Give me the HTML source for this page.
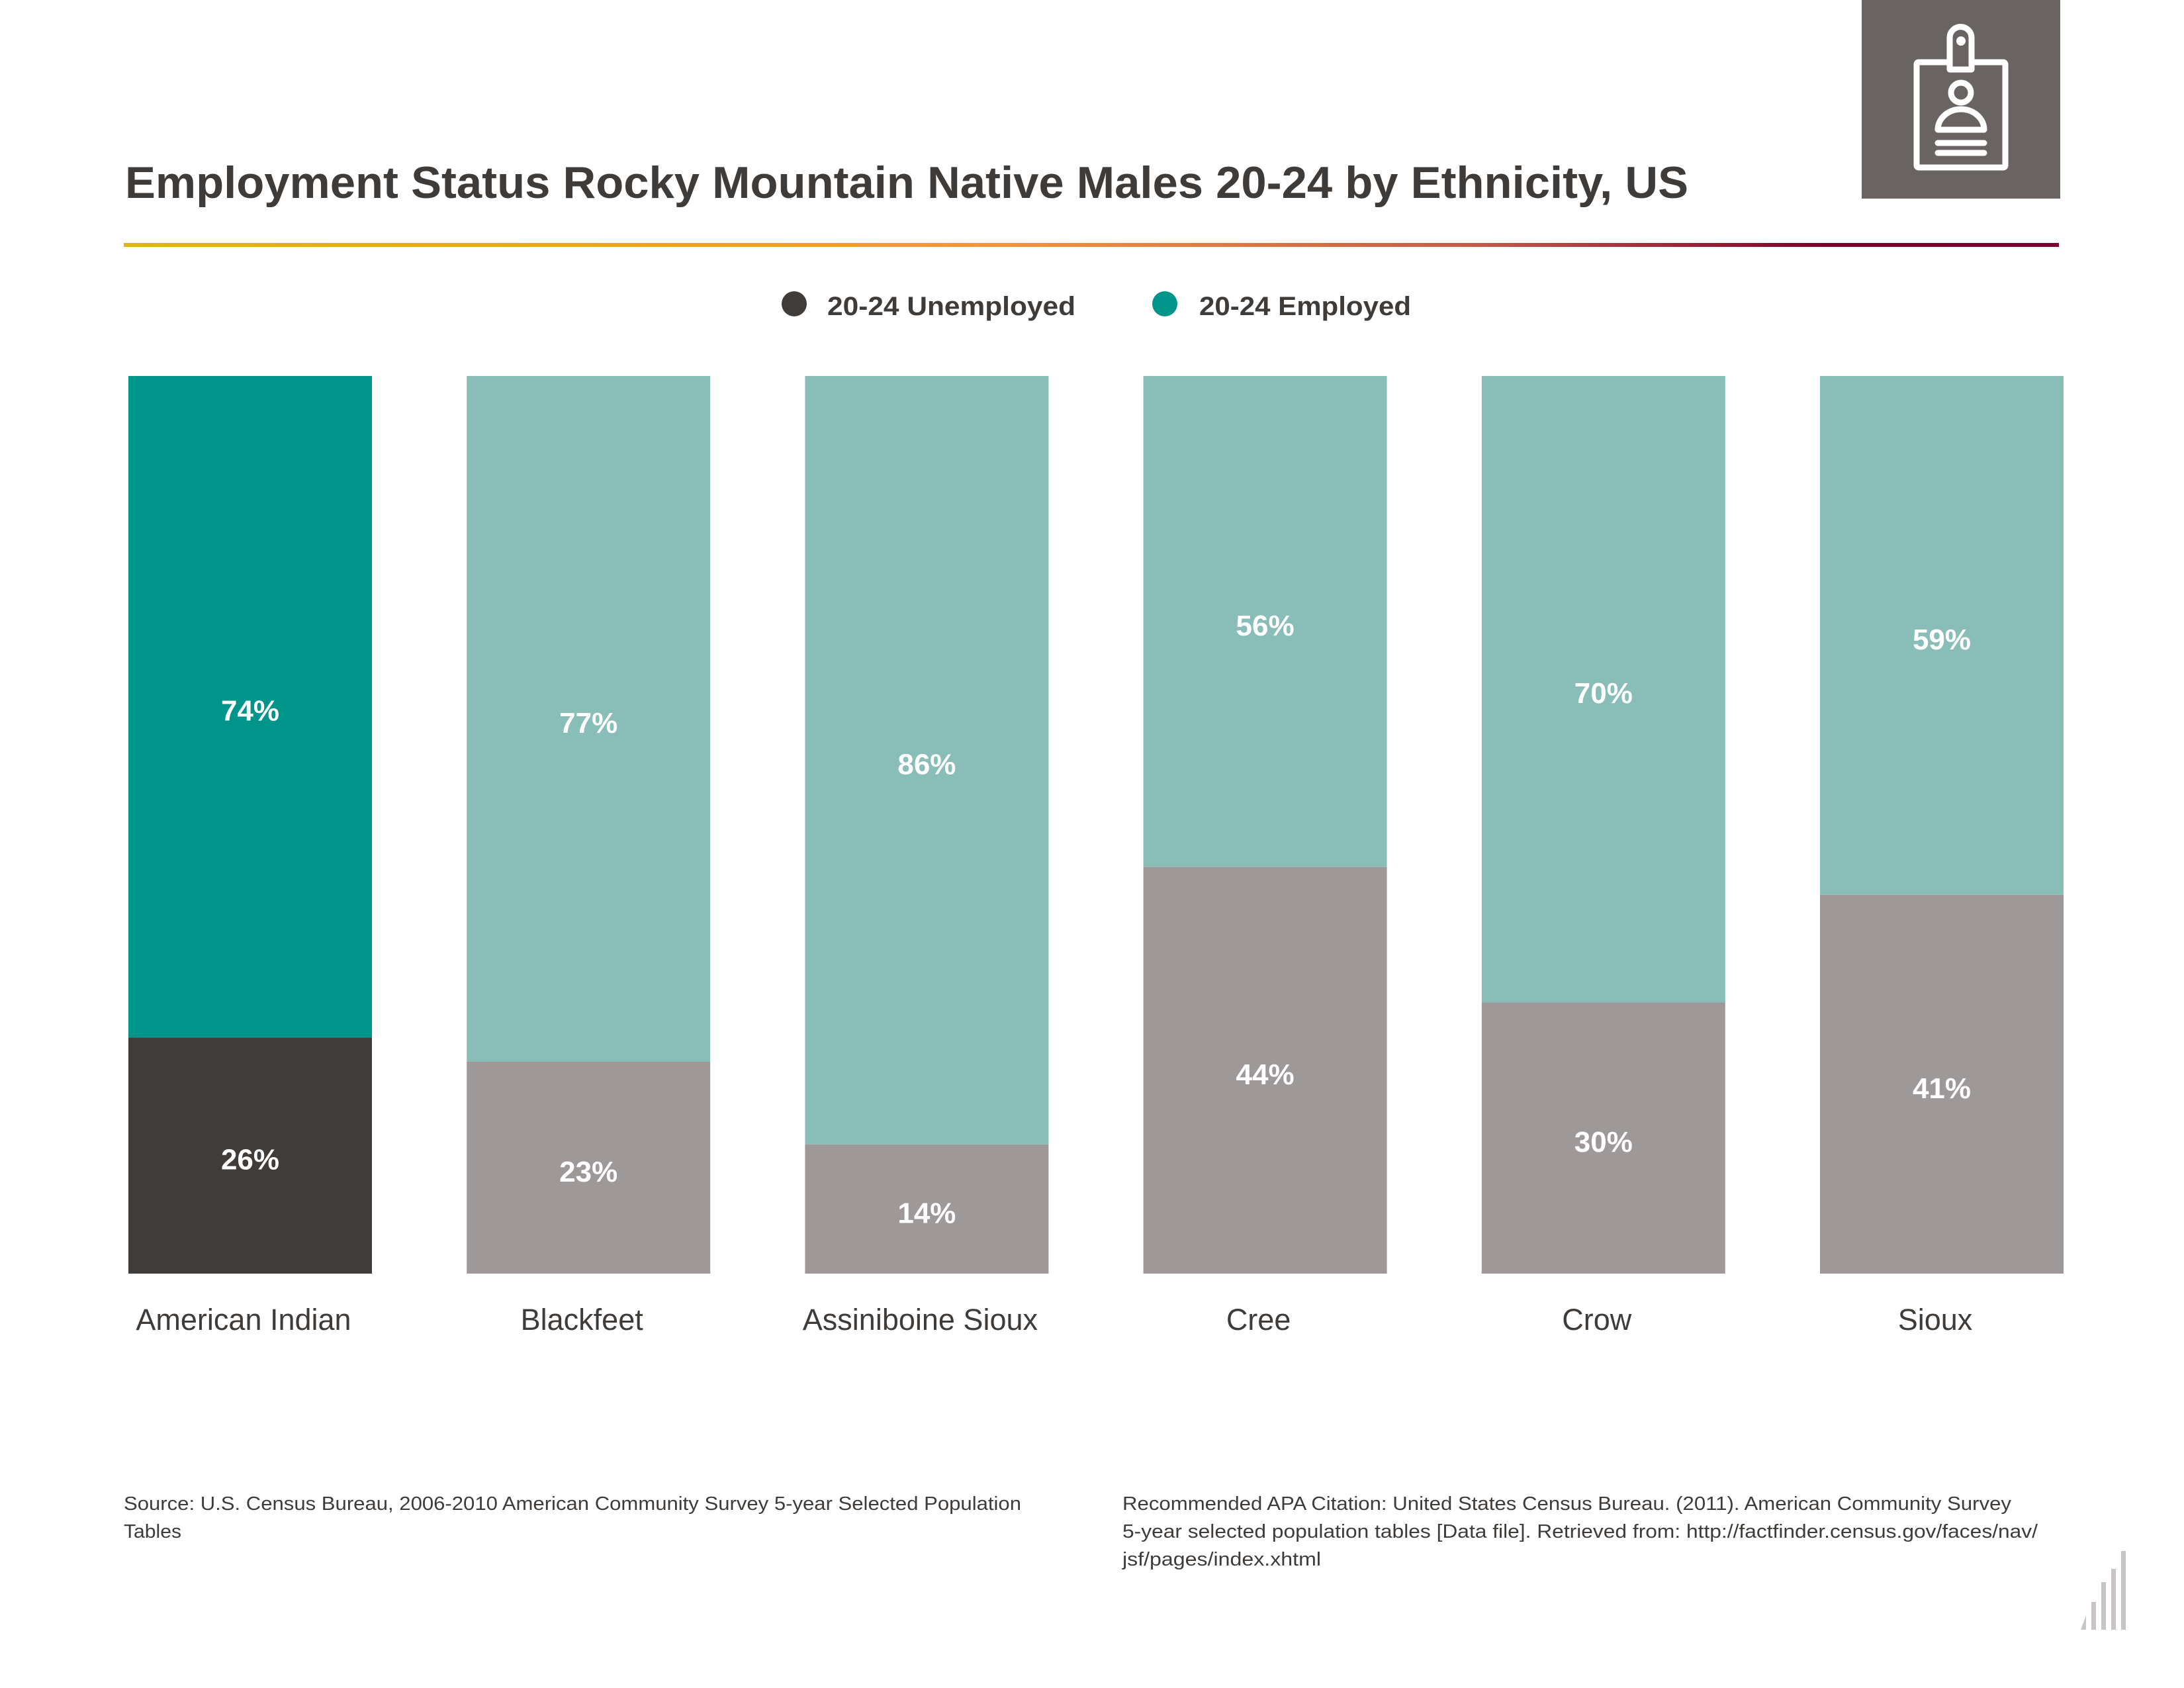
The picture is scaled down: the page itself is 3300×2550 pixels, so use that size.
<!DOCTYPE html>
<html><head><meta charset="utf-8"><style>
html,body{margin:0;padding:0;background:#fff;}
svg{display:block;}
text{font-family:"Liberation Sans",sans-serif;}
</style></head><body>
<svg id="chart" width="3300" height="2550" viewBox="0 0 3300 2550" xmlns="http://www.w3.org/2000/svg">
<defs>
<linearGradient id="rule" x1="0" x2="1" y1="0" y2="0">
<stop offset="0" stop-color="#dfb414"/>
<stop offset="0.45" stop-color="#f4953b"/>
<stop offset="0.7" stop-color="#c45a4a"/>
<stop offset="0.88" stop-color="#7b0029"/>
<stop offset="1" stop-color="#7a0030"/>
</linearGradient>
</defs>
<g>
<rect x="2813" y="0" width="300" height="300" fill="#696361"/>
<rect x="2896" y="94" width="134" height="159" rx="3" fill="none" stroke="#fff" stroke-width="9"/>
<path d="M2946 105 V57 a16.5 16.5 0 0 1 33 0 V105 Z" fill="#696361" stroke="#fff" stroke-width="9" stroke-linejoin="round"/>
<circle cx="2963" cy="62" r="7" fill="#fff"/>
<circle cx="2963" cy="140" r="15" fill="none" stroke="#fff" stroke-width="9"/>
<path d="M2928 196 a35 31 0 0 1 70 0 Z" fill="none" stroke="#fff" stroke-width="9" stroke-linejoin="round"/>
<line x1="2928" y1="216" x2="2998" y2="216" stroke="#fff" stroke-width="9" stroke-linecap="round"/>
<line x1="2928" y1="231" x2="2998" y2="231" stroke="#fff" stroke-width="9" stroke-linecap="round"/>
</g>
<text x="189" y="299" font-size="68" font-weight="bold" fill="#3f3b38" textLength="2362" lengthAdjust="spacingAndGlyphs">Employment Status Rocky Mountain Native Males 20-24 by Ethnicity, US</text>
<rect x="187" y="367" width="2924" height="6" fill="url(#rule)"/>
<g>
<g>
<circle cx="1200" cy="459" r="19" fill="#403c39"/>
<text x="1250" y="476" font-size="40" font-weight="bold" fill="#3f3b38" textLength="375" lengthAdjust="spacingAndGlyphs">20-24 Unemployed</text>
</g>
<g>
<circle cx="1760" cy="459" r="19" fill="#00958a"/>
<text x="1812" y="476" font-size="40" font-weight="bold" fill="#3f3b38" textLength="320" lengthAdjust="spacingAndGlyphs">20-24 Employed</text>
</g>
</g>
<g id="bars"></g>
<g font-size="29" fill="#3f3b38">
<text x="187" y="2281" textLength="1356" lengthAdjust="spacingAndGlyphs">Source:  U.S. Census Bureau, 2006-2010 American Community Survey 5-year Selected Population</text>
<text x="187" y="2323" textLength="87" lengthAdjust="spacingAndGlyphs">Tables</text>
<text x="1696" y="2281" textLength="1343" lengthAdjust="spacingAndGlyphs">Recommended APA Citation: United States Census Bureau. (2011). American Community Survey</text>
<text x="1696" y="2323" textLength="1383" lengthAdjust="spacingAndGlyphs">5-year selected population tables [Data file]. Retrieved from: http://factfinder.census.gov/faces/nav/</text>
<text x="1696" y="2365" textLength="300" lengthAdjust="spacingAndGlyphs">jsf/pages/index.xhtml</text>
</g>
<g fill="#c8c5c4">
<polygon points="3144,2462 3152,2462 3152,2440"/>
<rect x="3160" y="2420" width="7" height="42"/>
<rect x="3175" y="2390" width="7" height="72"/>
<rect x="3190" y="2370" width="7" height="92"/>
<rect x="3205" y="2343" width="7" height="119"/>
</g>
</svg>
<script>
const categories = ["American Indian","Blackfeet","Assiniboine Sioux","Cree","Crow","Sioux"];
const unemployed = [26.3,23.6,14.4,45.3,30.2,42.2];
const employed = [73.7,76.4,85.6,54.7,69.8,57.8];
const unemployedLabels = ["26%","23%","14%","44%","30%","41%"];
const employedLabels = ["74%","77%","86%","56%","70%","59%"];

const NS = "http://www.w3.org/2000/svg";
const g = document.getElementById("bars");
const plotTop = 568, plotBottom = 1924, barW = 368, firstX = 194, step = 511.2;
function y(v){ return plotBottom - v/100*(plotBottom-plotTop); }
function xPos(i){ return firstX + i*step; }
function mk(tag, attrs){ const e=document.createElementNS(NS,tag); for(const k in attrs) e.setAttribute(k,attrs[k]); return e; }
categories.forEach((c,i)=>{
  const x = xPos(i);
  const total = unemployed[i]+employed[i];
  const yu = y(unemployed[i]);
  const ye = y(total);
  const hi = i===0;
  const eb = mk("rect",{x:x,y:ye,width:barW,height:yu-ye,fill:hi?"#00958a":"#89beb8"});
  
  
  g.appendChild(eb);
  const ub = mk("rect",{x:x,y:yu,width:barW,height:plotBottom-yu,fill:hi?"#403c39":"#9e9998"});
  
  
  g.appendChild(ub);
  const et = mk("text",{x:x+barW/2,y:(ye+yu)/2+21,"text-anchor":"middle","font-size":"44","font-weight":"bold",fill:"#fff"});
  et.textContent = employedLabels[i];
  
  
  g.appendChild(et);
  const ut = mk("text",{x:x+barW/2,y:(yu+plotBottom)/2+21,"text-anchor":"middle","font-size":"44","font-weight":"bold",fill:"#fff"});
  ut.textContent = unemployedLabels[i];
  
  
  g.appendChild(ut);
  const ct = mk("text",{x:x+barW/2-10,y:2009,"text-anchor":"middle","font-size":"45",fill:"#3f3b38"});
  ct.textContent = c;
  
  
  g.appendChild(ct);
});
</script>
</body></html>
